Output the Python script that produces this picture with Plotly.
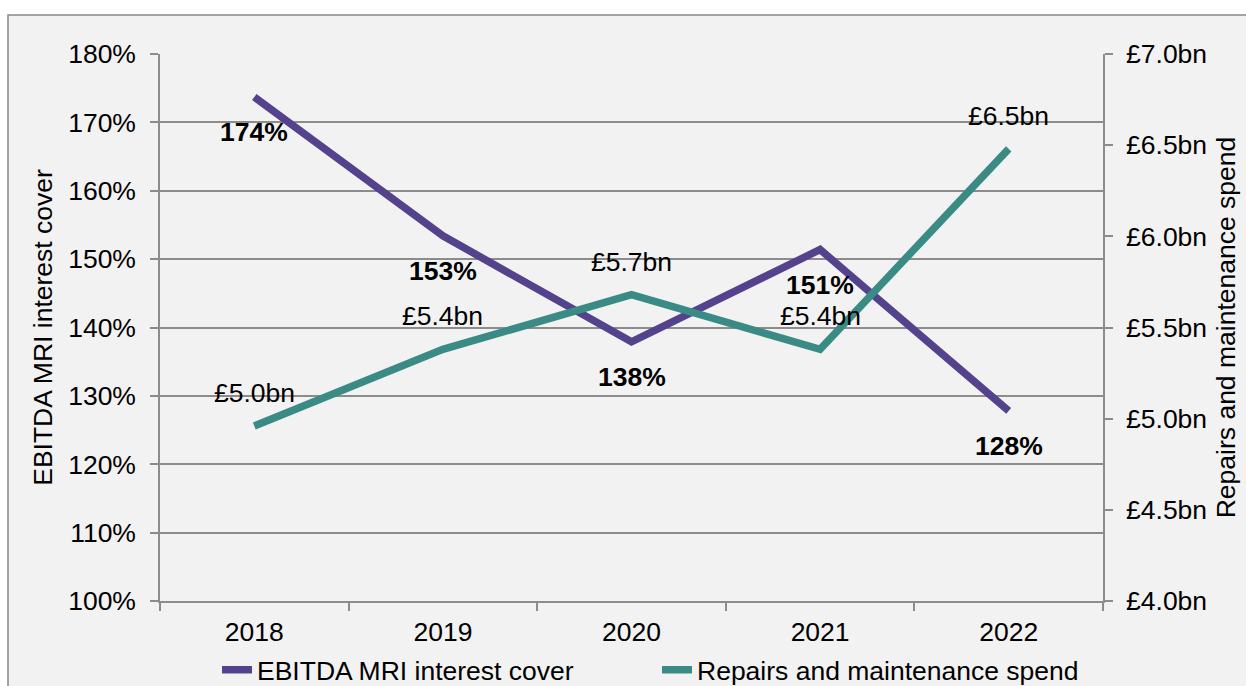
import plotly.graph_objects as go

years = ["2018", "2019", "2020", "2021", "2022"]
interest_cover = [173.7, 153.4, 137.9, 151.4, 127.8]  # %
repairs_spend = [4.96, 5.38, 5.68, 5.38, 6.48]  # £bn
cover_labels = ["174%", "153%", "138%", "151%", "128%"]
spend_labels = ["£5.0bn", "£5.4bn", "£5.7bn", "£5.4bn", "£6.5bn"]
left_ticks = [100, 110, 120, 130, 140, 150, 160, 170, 180]
right_ticks = [4.0, 4.5, 5.0, 5.5, 6.0, 6.5, 7.0]

PURPLE = "#54428c"
TEAL = "#3a8a85"
GRID = "#8c8c8c"
FONT = "Liberation Sans, Arial, sans-serif"
FS = 26.5

W, H = 1246, 686
L, R, T, B = 160, W - 1103, 54, H - 601
pw, ph = W - L - R, H - T - B

def px_x(p):
    return (p - L) / pw

def px_y(p):
    return (H - B - p) / ph

fig = go.Figure()
fig.add_trace(go.Scatter(
    x=years, y=interest_cover, name="EBITDA MRI interest cover",
    mode="lines", line=dict(color=PURPLE, width=7.5), yaxis="y", legend="legend",
))
fig.add_trace(go.Scatter(
    x=years, y=repairs_spend, name="Repairs and maintenance spend",
    mode="lines", line=dict(color=TEAL, width=7.5), yaxis="y2", legend="legend2",
))

# category axis: annotation x is the category's serial index
annotations = []
for i, (v, lab) in enumerate(zip(interest_cover, cover_labels)):
    annotations.append(dict(x=i, y=v, xref="x", yref="y", text="<b>" + lab + "</b>", showarrow=False,
                            yshift=-35, font=dict(family=FONT, size=FS, color="black")))
for i, (v, lab) in enumerate(zip(repairs_spend, spend_labels)):
    annotations.append(dict(x=i, y=v, xref="x", yref="y2", text=lab, showarrow=False,
                            yshift=33, font=dict(family=FONT, size=FS, color="black")))

fig.update_layout(
    width=W, height=H,
    margin=dict(l=L, r=R, t=T, b=B, pad=0, autoexpand=False),
    paper_bgcolor="white",
    plot_bgcolor="rgba(0,0,0,0)",
    font=dict(family=FONT, size=FS, color="black"),
    showlegend=True,
    xaxis=dict(
        type="category", categoryorder="array", categoryarray=years,
        range=[-0.5, 4.5], autorange=False, automargin=False,
        tickson="boundaries", ticks="outside", ticklen=8, tickwidth=1.5,
        tickcolor=GRID, showline=True, linecolor=GRID, linewidth=1.5, showgrid=False,
        zeroline=False, tickangle=0, ticklabelstandoff=6,
    ),
    yaxis=dict(
        range=[100, 180], autorange=False, automargin=False,
        tickvals=left_ticks, ticktext=[f"{t}%" for t in left_ticks],
        ticks="outside", ticklen=8, tickwidth=1.5, tickcolor=GRID,
        showline=True, linecolor=GRID, linewidth=1.5,
        showgrid=True, gridcolor=GRID, gridwidth=1.5, zeroline=False,
        ticklabelstandoff=9,
        title=dict(text="EBITDA MRI interest cover", standoff=8, font=dict(size=FS)),
    ),
    yaxis2=dict(
        range=[4.0, 7.0], autorange=False, automargin=False,
        tickvals=right_ticks, ticktext=[f"£{t:.1f}bn" for t in right_ticks],
        overlaying="y", side="right",
        ticks="outside", ticklen=8, tickwidth=1.5, tickcolor=GRID,
        showline=True, linecolor=GRID, linewidth=1.5, showgrid=False, zeroline=False,
        ticklabelstandoff=8,
        title=dict(text="Repairs and maintenance spend", standoff=10, font=dict(size=FS)),
    ),
    legend=dict(orientation="h", x=px_x(217), y=px_y(670), xanchor="left", yanchor="middle",
                bgcolor="rgba(0,0,0,0)", font=dict(size=FS)),
    legend2=dict(orientation="h", x=px_x(657), y=px_y(670), xanchor="left", yanchor="middle",
                 bgcolor="rgba(0,0,0,0)", font=dict(size=FS), visible=True),
    annotations=annotations,
    shapes=[dict(type="rect", xref="paper", yref="paper", layer="below",
                 x0=px_x(8), x1=px_x(W + 10), y0=px_y(H + 10), y1=px_y(15),
                 fillcolor="#f2f2f2", line=dict(color="#888888", width=1.5))],
)

fig.write_html("out.html")
